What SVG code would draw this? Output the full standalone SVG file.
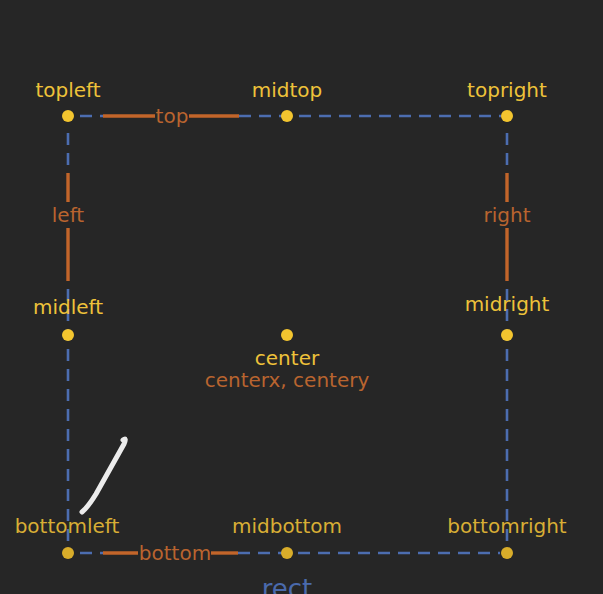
<svg xmlns="http://www.w3.org/2000/svg" width="603" height="594" viewBox="0 0 603 594">
<style>
.bg{fill:#262626}
.dash{stroke:#4c6db0;stroke-width:2.6;stroke-dasharray:12 8;fill:none}
.edge{stroke:#c2652a;stroke-width:3.4;fill:none}
.dot{fill:#f3c52f}
.dot2{fill:#d9ad2a}
.lbl{font-family:"DejaVu Sans",sans-serif;font-size:20px;fill:#eec23a;text-anchor:middle}
.lbl2{font-family:"DejaVu Sans",sans-serif;font-size:20px;fill:#d8ae35;text-anchor:middle}
.olbl{font-family:"DejaVu Sans",sans-serif;font-size:20px;fill:#b9642f;text-anchor:middle}
.rect{font-family:"DejaVu Sans",sans-serif;font-size:26px;fill:#4a6aac;text-anchor:middle}
</style>
<rect class="bg" x="0" y="0" width="603" height="594"/>
<g id="connectors">
  <line class="dash" x1="80" y1="116" x2="103" y2="116" stroke-dasharray="11 8"/>
  <line class="edge" x1="103" y1="116" x2="155" y2="116"/>
  <line class="edge" x1="189" y1="116" x2="239" y2="116"/>
  <line class="dash" x1="239" y1="116" x2="501" y2="116"/>
  <line class="dash" x1="68" y1="133" x2="68" y2="173"/>
  <line class="edge" x1="68" y1="173" x2="68" y2="202"/>
  <line class="edge" x1="68" y1="228" x2="68" y2="281"/>
  <line class="dash" x1="68" y1="289" x2="68" y2="545"/>
  <line class="dash" x1="507" y1="133" x2="507" y2="173"/>
  <line class="edge" x1="507" y1="173" x2="507" y2="202"/>
  <line class="edge" x1="507" y1="228" x2="507" y2="281"/>
  <line class="dash" x1="507" y1="289" x2="507" y2="545"/>
  <line class="dash" x1="80" y1="553" x2="103" y2="553" stroke-dasharray="11 8"/>
  <line class="edge" x1="103" y1="553" x2="138" y2="553"/>
  <line class="edge" x1="211" y1="553" x2="238" y2="553"/>
  <line class="dash" x1="238" y1="553" x2="500" y2="553"/>
  <text class="olbl" x="172" y="123">top</text>
  <text class="olbl" x="68" y="222">left</text>
  <text class="olbl" x="507" y="222">right</text>
  <text class="olbl" x="175" y="560">bottom</text>
</g>
<g id="topleft"><circle class="dot" cx="68" cy="116" r="6"/><text class="lbl" x="68" y="97">topleft</text></g>
<g id="midtop"><circle class="dot" cx="287" cy="116" r="6"/><text class="lbl" x="287" y="97">midtop</text></g>
<g id="topright"><circle class="dot" cx="507" cy="116" r="6"/><text class="lbl" x="507" y="97">topright</text></g>
<g id="midleft"><circle class="dot" cx="68" cy="335" r="6"/><text class="lbl" x="68" y="314">midleft</text></g>
<g id="center"><circle class="dot" cx="287" cy="335" r="6"/><text class="lbl" x="287" y="365">center</text><text class="olbl" x="287" y="387">centerx, centery</text></g>
<g id="midright"><circle class="dot" cx="507" cy="335" r="6"/><text class="lbl" x="507" y="311">midright</text></g>
<g id="bottomleft"><circle class="dot2" cx="68" cy="553" r="6"/><text class="lbl2" x="67" y="533">bottomleft</text></g>
<g id="midbottom"><circle class="dot2" cx="287" cy="553" r="6"/><text class="lbl2" x="287" y="533">midbottom</text></g>
<g id="bottomright"><circle class="dot2" cx="507" cy="553" r="6"/><text class="lbl2" x="507" y="533">bottomright</text></g>
<text class="rect" x="287" y="598">rect</text>
<path d="M123,440 Q127,437 124,444 L96,494 Q88,507 82,512" stroke="#ececec" stroke-width="5" stroke-linecap="round" stroke-linejoin="round" fill="none"/>
</svg>
